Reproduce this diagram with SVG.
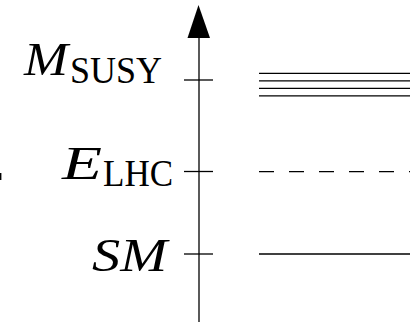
<svg xmlns="http://www.w3.org/2000/svg" width="410" height="324" viewBox="0 0 410 324">
<style>
.ln{stroke:#000;stroke-width:1.3;fill:none}
.it{font-family:'Liberation Serif','DejaVu Serif',serif;font-style:italic;font-size:47px;fill:#000}
.sub{font-family:'Liberation Serif','DejaVu Serif',serif;font-size:37px;fill:#000}
</style>
<rect width="410" height="324" fill="#fff"/>
<g id="axis">
<line class="ln" x1="199" y1="36" x2="199" y2="322"/>
<polygon points="198.5,5 187.5,38 210,38" fill="#000"/>
</g>
<g id="ticks">
<line class="ln" x1="184" y1="80" x2="213" y2="80"/>
<line class="ln" x1="184" y1="171.5" x2="213" y2="171.5"/>
<line class="ln" x1="184" y1="254" x2="213" y2="254"/>
</g>
<g id="susy-levels">
<line class="ln" x1="259" y1="73.3" x2="410" y2="73.3"/>
<line class="ln" x1="259" y1="80.8" x2="410" y2="80.8"/>
<line class="ln" x1="259" y1="88.3" x2="410" y2="88.3"/>
<line class="ln" x1="259" y1="95.8" x2="410" y2="95.8"/>
</g>
<g id="lhc-level">
<line class="ln" x1="259" y1="171.7" x2="410" y2="171.7" stroke-dasharray="15 15"/>
</g>
<g id="sm-level">
<line class="ln" x1="259" y1="254" x2="410" y2="254"/>
</g>
<g id="label-msusy">
<text class="it" x="24" y="74.5" textLength="44" lengthAdjust="spacingAndGlyphs">M</text>
<text class="sub" x="70" y="83.3" textLength="92" lengthAdjust="spacingAndGlyphs">SUSY</text>
</g>
<g id="label-elhc">
<text class="it" x="62" y="179.3" textLength="40" lengthAdjust="spacingAndGlyphs">E</text>
<text class="sub" x="103" y="186" textLength="70" lengthAdjust="spacingAndGlyphs">LHC</text>
</g>
<g id="label-sm">
<text class="it" x="92" y="270.5" textLength="75" lengthAdjust="spacingAndGlyphs">SM</text>
</g>
<rect x="0" y="173" width="1.4" height="7" fill="#000"/>
</svg>
